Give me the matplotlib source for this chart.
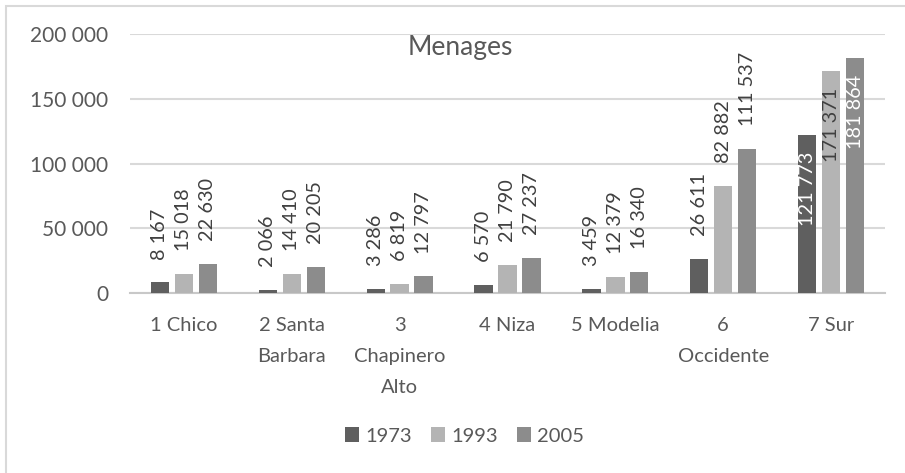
import matplotlib
matplotlib.use("Agg")
import matplotlib.pyplot as plt
from matplotlib.patches import Patch, Rectangle
import numpy as np

categories = ["1 Chico", "2 Santa\nBarbara", "3\nChapinero\nAlto", "4 Niza",
              "5 Modelia", "6\nOccidente", "7 Sur"]
years = ["1973", "1993", "2005"]
v1973 = [8167, 2066, 3286, 6570, 3459, 26611, 121773]
v1993 = [15018, 14410, 6819, 21790, 12379, 82882, 171371]
v2005 = [22630, 20205, 12797, 27237, 16340, 111537, 181864]
yticks = [0, 50000, 100000, 150000, 200000]
title = "Menages"

colors = ["#5f5f5f", "#b4b4b4", "#8c8c8c"]
inside_colors = ["white", "#404040", "white"]
FONT = ["Lato", "DejaVu Sans"]
plt.rcParams["font.family"] = FONT

W, H = 905, 473
fig = plt.figure(figsize=(W / 100, H / 100), dpi=100)
fig.patches.append(Rectangle((6 / W, -0.01), 1.0, 1.01 - 6 / H, transform=fig.transFigure,
                             fill=False, edgecolor="#d9d9d9", linewidth=1.5))

left, right, bottom, top = 130, 885, 293, 34.3
ax = fig.add_axes([left / W, 1 - bottom / H, (right - left) / W, (bottom - top) / H])
ax.set_xlim(-0.5, 6.5)
ax.set_ylim(0, 200000)
ax.set_facecolor("none")

def fmt(v):
    return f"{v:,}".replace(",", " ")

x = np.arange(len(categories))
step = 0.222
bw = 0.17
series = [v1973, v1993, v2005]
for i, vals in enumerate(series):
    xs = x + (i - 1) * step
    ax.bar(xs, vals, width=bw, color=colors[i], zorder=3)
    for xi, v in zip(xs, vals):
        if v > 115000:
            ax.annotate(fmt(v), (xi, v), xytext=(0, -12), textcoords="offset points",
                        rotation=90, ha="center", va="top", fontsize=14.3,
                        color=inside_colors[i], zorder=4)
        else:
            ax.annotate(fmt(v), (xi, v), xytext=(0, 16.5), textcoords="offset points",
                        rotation=90, ha="center", va="bottom", fontsize=14.3,
                        color="#404040", zorder=4)

ax.set_yticks(yticks)
ax.set_yticklabels([fmt(t) for t in yticks])
ax.set_xticks(x)
ax.set_xticklabels(categories, linespacing=1.99)
ax.tick_params(axis="both", length=0, labelsize=14.5, colors="#595959")
ax.tick_params(axis="y", pad=15.5, labelsize=15)
ax.tick_params(axis="x", pad=17.5)
for lab in ax.get_xticklabels():
    lab.set_verticalalignment("top")
ax.grid(axis="y", color="#d9d9d9", linewidth=1.5, zorder=0)
for s in ["top", "right", "left"]:
    ax.spines[s].set_visible(False)
ax.spines["bottom"].set_color("#c8c8c8")
ax.spines["bottom"].set_linewidth(1.5)

fig.text(460 / W, 1 - 55 / H, title, ha="center", va="baseline", fontsize=19,
         color="#595959")

handles = [Patch(facecolor=c, edgecolor="none") for c in colors]
fig.legend(handles, years, loc="center", bbox_to_anchor=(464.5 / W, 1 - 436 / H),
           ncol=3, frameon=False, fontsize=14.5, handlelength=0.7, handleheight=0.7,
           handletextpad=0.3, columnspacing=0.95, labelcolor="#595959",
           borderaxespad=0, borderpad=0)

fig.savefig("out.png", dpi=100)
